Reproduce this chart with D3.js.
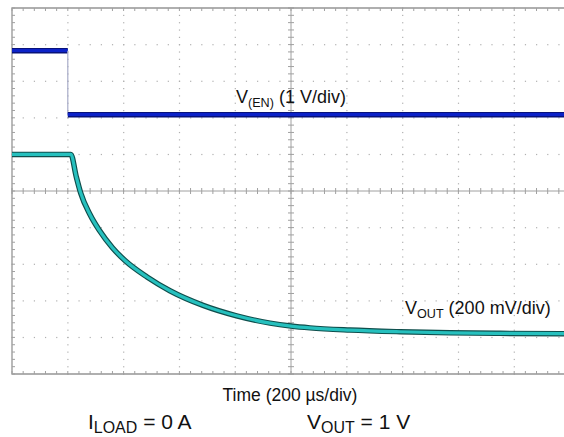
<!DOCTYPE html>
<html><head><meta charset="utf-8">
<script src="https://cdn.jsdelivr.net/npm/d3@7"></script>
<style>body{margin:0;background:#fff;overflow:hidden}text{font-family:"Liberation Sans",Arial,sans-serif;fill:#111}</style>
</head><body><svg id="c" width="564" height="437"></svg>
<script>
// ---- data ----
const timeDivs = 10, voltDivs = 10;          // scope screen divisions
const timePerDiv = 200;                        // µs/div
const enTime  = [0, 200, 200, 2000];           // µs
const enVolts = [1.83, 1.83, 0.08, 0.08];      // V (1 V/div)
const enGroundDiv = 7, enVoltsPerDiv = 1;
const voutTime  = [0, 211, 230, 246, 280, 313, 360, 405, 484, 566, 685, 805, 925, 1000, 1068, 1211, 1391, 1570, 1749, 2000];
const voutVolts = [1.0, 1.0, 0.88, 0.79, 0.67, 0.585, 0.49, 0.42, 0.33, 0.255, 0.175, 0.118, 0.078, 0.062, 0.052, 0.040, 0.031, 0.025, 0.022, 0.020];
const voutGroundDiv = 1, voutVoltsPerDiv = 0.2;

// ---- layout ----
const L = 12, T = 8, W = 558, H = 366;
const svg = d3.select("#c");
const x = d3.scaleLinear().domain([0, timeDivs * timePerDiv]).range([L, L + W]);
const y = d3.scaleLinear().domain([0, voltDivs]).range([T + H, T]);
const enY = v => y(enGroundDiv + v / enVoltsPerDiv);
const voY = v => y(voutGroundDiv + v / voutVoltsPerDiv);

const g = svg.append("g");
const minorX = d3.range(0, timeDivs * 5 + 1).map(i => i * timePerDiv / 5);
const minorY = d3.range(0, voltDivs * 5 + 1).map(i => i / 5);

// dotted grid
for (let i = 1; i < timeDivs; i++) {
  if (i === 5) continue;
  g.selectAll(null).data(minorY).enter().append("rect")
    .attr("x", x(i * timePerDiv) - 0.5).attr("y", d => y(d) - 0.5)
    .attr("width", 1.2).attr("height", 1.2).attr("fill", "#b0b0b0");
}
for (let j = 1; j < voltDivs; j++) {
  if (j === 5) continue;
  g.selectAll(null).data(minorX).enter().append("rect")
    .attr("x", d => x(d) - 0.5).attr("y", y(j) - 0.5)
    .attr("width", 1.2).attr("height", 1.2).attr("fill", "#b0b0b0");
}
// center axes
const axc = "#a0a0a0";
g.append("line").attr("x1", L).attr("x2", L + W).attr("y1", y(5)).attr("y2", y(5)).attr("stroke", axc);
g.append("line").attr("x1", x(1000)).attr("x2", x(1000)).attr("y1", T).attr("y2", T + H).attr("stroke", axc);
g.selectAll(null).data(minorX).enter().append("line")
  .attr("x1", d => x(d)).attr("x2", d => x(d)).attr("y1", y(5) - 3).attr("y2", y(5) + 3).attr("stroke", axc);
g.selectAll(null).data(minorY).enter().append("line")
  .attr("y1", d => y(d)).attr("y2", d => y(d)).attr("x1", x(1000) - 3).attr("x2", x(1000) + 3).attr("stroke", axc);
// border
g.append("path").attr("d", `M${L + W},${T}H${L}V${T + H}H${L + W}`).attr("fill", "none").attr("stroke", "#959595").attr("stroke-width", 1.3);
g.selectAll(null).data(minorX).enter().append("line")
  .attr("x1", d => x(d)).attr("x2", d => x(d)).attr("y1", T).attr("y2", T + 3).attr("stroke", axc);
g.selectAll(null).data(minorX).enter().append("line")
  .attr("x1", d => x(d)).attr("x2", d => x(d)).attr("y1", T + H - 3).attr("y2", T + H).attr("stroke", axc);
g.selectAll(null).data(minorY).enter().append("line")
  .attr("y1", d => y(d)).attr("y2", d => y(d)).attr("x1", L).attr("x2", L + 3).attr("stroke", axc);

// EN trace
const enPts = enTime.map((t, i) => [t, enVolts[i]]);
for (let i = 0; i < enPts.length - 1; i++) {
  const a = enPts[i], b = enPts[i + 1];
  const flat = a[1] === b[1];
  if (flat) {
    g.append("line").attr("x1", x(a[0])).attr("x2", x(b[0])).attr("y1", enY(a[1])).attr("y2", enY(b[1]))
      .attr("stroke", "#08127a").attr("stroke-width", 5.5);
    g.append("line").attr("x1", x(a[0])).attr("x2", x(b[0])).attr("y1", enY(a[1]) - 0.3).attr("y2", enY(b[1]) - 0.3)
      .attr("stroke", "#0c22c8").attr("stroke-width", 3);
  } else {
    g.append("line").attr("x1", x(a[0])).attr("x2", x(b[0])).attr("y1", enY(a[1])).attr("y2", enY(b[1]))
      .attr("stroke", "#a8acc8").attr("stroke-width", 1.2);
  }
}

// VOUT trace
const voPts = voutTime.map((t, i) => [t, voutVolts[i]]);
const line = d3.line().x(d => x(d[0])).y(d => voY(d[1])).curve(d3.curveMonotoneX);
g.append("path").attr("d", line(voPts)).attr("fill", "none").attr("stroke", "#0f4e4c").attr("stroke-width", 5.5);
g.append("path").attr("d", line(voPts)).attr("fill", "none").attr("stroke", "#26c0be").attr("stroke-width", 3.2);

// labels
function sublabel(px, py, size, sub, parts) {
  const t = svg.append("text").attr("x", px).attr("y", py).attr("font-size", size);
  parts.forEach(p => {
    const s = t.append("tspan").text(p[0]);
    if (p[1]) s.attr("font-size", size * sub).attr("dy", size * 0.2);
    else if (p[2]) s.attr("dy", -size * 0.2);
  });
  return t;
}
sublabel(236, 103, 18, 0.7, [["V"], ["(EN)", 1], [" (1 V/div)", 0, 1]]);
sublabel(405, 314, 18, 0.7, [["V"], ["OUT", 1], [" (200 mV/div)", 0, 1]]);
svg.append("text").attr("x", 290).attr("y", 401).attr("font-size", 17.5).attr("text-anchor", "middle").text("Time (200 µs/div)");
sublabel(88, 429, 21, 0.76, [["I"], ["LOAD", 1], [" = 0 A", 0, 1]]);
sublabel(307, 429, 21, 0.76, [["V"], ["OUT", 1], [" = 1 V", 0, 1]]);
</script></body></html>
